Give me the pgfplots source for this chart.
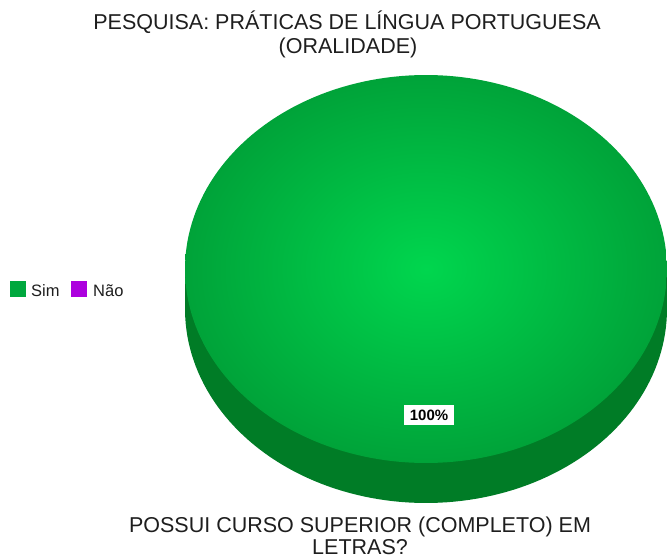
\documentclass[border=0pt]{standalone}
\usepackage{pgfplots}
\pgfplotsset{compat=1.18}
\usepackage{pgfplotstable}
\usepackage{fontspec}
\setmainfont{Liberation Sans}
\definecolor{simtop}{RGB}{0,214,78}
\definecolor{simedge}{RGB}{0,163,57}
\definecolor{simside}{RGB}{0,124,38}
\definecolor{simleg}{RGB}{0,168,62}
\definecolor{naoleg}{RGB}{172,0,222}
\definecolor{txt}{RGB}{30,30,30}
\pgfplotstableread{
label value
Sim 100
Nao 0
}\piedata
\begin{document}
\begin{tikzpicture}
\pgfplotstablegetelem{0}{value}\of\piedata
\let\simval\pgfplotsretval
\useasboundingbox (0,0) rectangle (667bp,560bp);
\begin{axis}[at={(0,0)}, anchor=south west, scale only axis,
  width=667bp, height=560bp, xmin=0, xmax=667, ymin=0, ymax=560,
  hide axis, clip=false]
% side wall of the 3D pie
\addplot[draw=none, fill=simside, domain=0:3.6*\simval, samples=200] ({426+241*cos(x)},{251+194*sin(x)});
\addplot[draw=none, fill=simside] coordinates {(185,251) (667,251) (667,291) (185,291)};
% top face
\addplot[draw=none, shading=radial, inner color=simtop, outer color=simedge, domain=0:3.6*\simval, samples=200] ({426+241*cos(x)},{291+194*sin(x)});
% value label
\node[fill=white, text=black, font=\bfseries\fontsize{15bp}{15bp}\selectfont, inner xsep=6bp, inner ysep=5bp] at (axis cs:429,145) {\simval\%};
% titles
\node[anchor=base, text=txt, font=\fontsize{21.5bp}{24bp}\selectfont] at (axis cs:347,530) {PESQUISA: PRÁTICAS DE LÍNGUA PORTUGUESA};
\node[anchor=base, text=txt, font=\fontsize{21.5bp}{24bp}\selectfont] at (axis cs:348,506) {(ORALIDADE)};
\node[anchor=base, text=txt, font=\fontsize{21.5bp}{24bp}\selectfont] at (axis cs:360,28) {POSSUI CURSO SUPERIOR (COMPLETO) EM};
\node[anchor=base, text=txt, font=\fontsize{21.5bp}{24bp}\selectfont] at (axis cs:360,6) {LETRAS?};
% legend
\fill[simleg] (axis cs:10,263) rectangle (axis cs:26,279);
\node[anchor=base west, inner sep=0pt, text=txt, font=\fontsize{16.5bp}{18bp}\selectfont] at (axis cs:31,264) {Sim};
\fill[naoleg] (axis cs:71,263) rectangle (axis cs:87,279);
\node[anchor=base west, inner sep=0pt, text=txt, font=\fontsize{16.5bp}{18bp}\selectfont] at (axis cs:93,264) {Não};
\end{axis}
\end{tikzpicture}
\end{document}
